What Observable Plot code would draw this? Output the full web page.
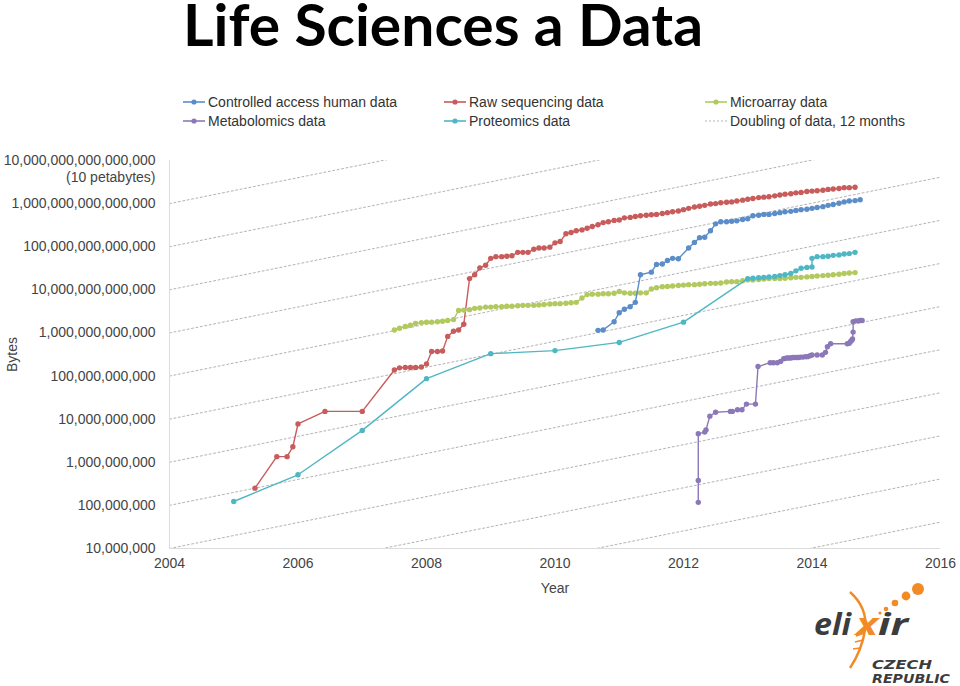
<!DOCTYPE html>
<html>
<head>
<meta charset="utf-8">
<script src="https://cdn.jsdelivr.net/npm/d3@7"></script>
<script src="https://cdn.jsdelivr.net/npm/@observablehq/plot@0.6"></script>
<style>
  html, body { margin: 0; padding: 0; background: #fff; }
  #page { position: relative; width: 960px; height: 686px; overflow: hidden; background: #fff; }
  .abs { position: absolute; }
  .leg { position: absolute; height: 18px; display: flex; align-items: center; font-family: "Liberation Sans", Arial, Helvetica, sans-serif; font-size: 14px; color: #333; white-space: nowrap; }
  .leg svg { margin-right: 2px; }
</style>
</head>
<body>
<div id="page">
  <svg class="abs" style="left:0;top:0" width="960" height="64">
    <text x="183" y="46" font-family="Lato, 'Open Sans', sans-serif" font-weight="700" font-size="57" textLength="520" lengthAdjust="spacingAndGlyphs" fill="#000">Life Sciences a Data</text>
  </svg>
  <div id="legend"></div>
  <div id="chart" class="abs" style="left:0;top:140px"></div>
  <svg class="abs" style="left:800px;top:570px" width="160" height="116">
    <path d="M50,22 Q68,38 65,60 Q62,80 50,98" fill="none" stroke="#f28a25" stroke-width="2.4"/>
    <path d="M56,66 L64,63 M55,72 L63,70 M53,79 L60,78" fill="none" stroke="#f28a25" stroke-width="1.6"/>
    <circle cx="80" cy="43" r="1.6" fill="#f28a25"/>
    <circle cx="86" cy="39" r="2.3" fill="#f28a25"/>
    <circle cx="95" cy="33" r="3.3" fill="#f28a25"/>
    <circle cx="106" cy="26" r="4.4" fill="#f28a25"/>
    <circle cx="118" cy="19" r="6" fill="#f28a25"/>
    <text x="14" y="65" font-family="'Open Sans', 'Liberation Sans', sans-serif" font-style="italic" font-weight="700" font-size="31" fill="#3c3c3c" textLength="37" lengthAdjust="spacingAndGlyphs">eli</text>
    <text x="56" y="65" font-family="'Open Sans', 'Liberation Sans', sans-serif" font-style="italic" font-weight="700" font-size="31" fill="#f28a25" textLength="22" lengthAdjust="spacingAndGlyphs">x</text>
    <text x="78" y="65" font-family="'Open Sans', 'Liberation Sans', sans-serif" font-style="italic" font-weight="700" font-size="31" fill="#3c3c3c" textLength="30" lengthAdjust="spacingAndGlyphs">ir</text>
    <text x="72" y="99" font-family="'DejaVu Sans', 'Liberation Sans', sans-serif" font-style="italic" font-weight="700" font-size="11.5" fill="#3c3c3c" textLength="60" lengthAdjust="spacingAndGlyphs">CZECH</text>
    <text x="72" y="113" font-family="'DejaVu Sans', 'Liberation Sans', sans-serif" font-style="italic" font-weight="700" font-size="11.5" fill="#3c3c3c" textLength="78" lengthAdjust="spacingAndGlyphs">REPUBLIC</text>
  </svg>
</div>
<script>
// ---------------- DATA ----------------
const seriesNames = [
  "Controlled access human data",
  "Raw sequencing data",
  "Microarray data",
  "Metabolomics data",
  "Proteomics data"
];
const doublingLabel = "Doubling of data, 12 months";

const xTicks = [2004, 2006, 2008, 2010, 2012, 2014, 2016];
const yTicks = [1e7, 1e8, 1e9, 1e10, 1e11, 1e12, 1e13, 1e14, 1e15, 1e16];
const topTickNote = ["(10 petabytes)"];

// monthly dates, Jul 2007 .. Sep 2014 (decimal years)
const monthsJul2007toSep2014 = [
  2007.50, 2007.58, 2007.67, 2007.75, 2007.83, 2007.92,
  2008.00, 2008.08, 2008.17, 2008.25, 2008.33, 2008.42, 2008.50, 2008.58, 2008.67, 2008.75, 2008.83, 2008.92,
  2009.00, 2009.08, 2009.17, 2009.25, 2009.33, 2009.42, 2009.50, 2009.58, 2009.67, 2009.75, 2009.83, 2009.92,
  2010.00, 2010.08, 2010.17, 2010.25, 2010.33, 2010.42, 2010.50, 2010.58, 2010.67, 2010.75, 2010.83, 2010.92,
  2011.00, 2011.08, 2011.17, 2011.25, 2011.33, 2011.42, 2011.50, 2011.58, 2011.67, 2011.75, 2011.83, 2011.92,
  2012.00, 2012.08, 2012.17, 2012.25, 2012.33, 2012.42, 2012.50, 2012.58, 2012.67, 2012.75, 2012.83, 2012.92,
  2013.00, 2013.08, 2013.17, 2013.25, 2013.33, 2013.42, 2013.50, 2013.58, 2013.67, 2013.75, 2013.83, 2013.92,
  2014.00, 2014.08, 2014.17, 2014.25, 2014.33, 2014.42, 2014.50, 2014.58, 2014.67
];

// Raw sequencing data (log10 bytes)
const rawEarlyYears = [2005.33, 2005.67, 2005.83, 2005.92, 2006.00, 2006.42, 2007.00];
const rawEarlyLog10 = [8.40, 9.13, 9.13, 9.36, 9.89, 10.18, 10.18];
const rawMonthlyLog10 = [
  11.14, 11.19, 11.20, 11.20, 11.20, 11.21, 11.28, 11.57, 11.57, 11.58,
  11.92, 12.04, 12.07, 12.20, 13.26, 13.35, 13.51, 13.57, 13.73, 13.77,
  13.77, 13.78, 13.79, 13.87, 13.87, 13.87, 13.94, 13.97, 13.97, 13.99,
  14.09, 14.12, 14.30, 14.33, 14.37, 14.39, 14.43, 14.47, 14.51, 14.56,
  14.58, 14.61, 14.62, 14.67, 14.68, 14.70, 14.72, 14.73, 14.74, 14.75,
  14.77, 14.79, 14.81, 14.83, 14.86, 14.89, 14.92, 14.94, 14.96, 14.99,
  15.00, 15.02, 15.03, 15.04, 15.06, 15.08, 15.10, 15.12, 15.14, 15.15,
  15.16, 15.18, 15.20, 15.22, 15.23, 15.25, 15.26, 15.28, 15.29, 15.30,
  15.31, 15.33, 15.34, 15.35, 15.37, 15.37, 15.38
];

// Microarray data (log10 bytes), monthly Jul 2007 .. Sep 2014
const microarrayLog10 = [
  12.07, 12.11, 12.15, 12.18, 12.22, 12.24, 12.25, 12.25, 12.26, 12.27,
  12.29, 12.31, 12.52, 12.53, 12.54, 12.57, 12.58, 12.60, 12.60, 12.61,
  12.61, 12.62, 12.62, 12.63, 12.64, 12.64, 12.64, 12.65, 12.66, 12.67,
  12.68, 12.68, 12.69, 12.70, 12.71, 12.81, 12.89, 12.90, 12.90, 12.91,
  12.91, 12.92, 12.96, 12.93, 12.92, 12.92, 12.93, 12.93, 13.02, 13.05,
  13.07, 13.08, 13.09, 13.10, 13.11, 13.12, 13.12, 13.13, 13.14, 13.15,
  13.15, 13.16, 13.18, 13.19, 13.19, 13.21, 13.23, 13.23, 13.24, 13.25,
  13.26, 13.26, 13.26, 13.27, 13.28, 13.29, 13.29, 13.30, 13.31, 13.32,
  13.33, 13.34, 13.35, 13.36, 13.38, 13.39, 13.40
];

// Controlled access human data
const controlledYears = [
  2010.67, 2010.75, 2010.92,
  2011.00, 2011.08, 2011.17, 2011.25, 2011.33, 2011.50, 2011.58, 2011.67, 2011.75, 2011.83, 2011.92,
  2012.08, 2012.17, 2012.25, 2012.33, 2012.42, 2012.50, 2012.58, 2012.67, 2012.75, 2012.83, 2012.92,
  2013.00, 2013.08, 2013.17, 2013.25, 2013.33, 2013.42, 2013.50, 2013.58, 2013.67, 2013.75, 2013.83, 2013.92,
  2014.00, 2014.08, 2014.17, 2014.25, 2014.33, 2014.42, 2014.50, 2014.58, 2014.67, 2014.75
];
const controlledLog10 = [
  12.06, 12.07, 12.26, 12.47, 12.55, 12.61, 12.71, 13.35, 13.41, 13.59,
  13.60, 13.68, 13.73, 13.72, 13.97, 14.10, 14.21, 14.22, 14.37, 14.53,
  14.58, 14.58, 14.59, 14.60, 14.63, 14.65, 14.72, 14.73, 14.75, 14.75,
  14.77, 14.79, 14.81, 14.82, 14.84, 14.86, 14.87, 14.89, 14.91, 14.93,
  14.96, 14.98, 15.01, 15.04, 15.06, 15.07, 15.09
];

// Proteomics data
const proteomicsYears = [
  2005.00, 2006.00, 2007.00, 2008.00, 2009.00, 2010.00, 2011.00, 2012.00,
  2013.00, 2013.08, 2013.17, 2013.25, 2013.33, 2013.42, 2013.50, 2013.58, 2013.67, 2013.75, 2013.83, 2013.92,
  2014.00, 2014.00, 2014.08, 2014.17, 2014.25, 2014.33, 2014.42, 2014.50, 2014.58, 2014.67
];
const proteomicsLog10 = [
  8.09, 8.71, 9.74, 10.94, 11.52, 11.59, 11.78, 12.25,
  13.26, 13.27, 13.28, 13.29, 13.30, 13.31, 13.33, 13.35, 13.38, 13.44, 13.50, 13.52,
  13.53, 13.73, 13.77, 13.77, 13.78, 13.80, 13.81, 13.83, 13.84, 13.87
];

// Metabolomics data
const metabolomicsYears = [
  2012.23, 2012.23, 2012.23, 2012.33, 2012.35, 2012.41, 2012.50,
  2012.73, 2012.76, 2012.84, 2012.91, 2012.98, 2013.12, 2013.16,
  2013.35, 2013.40, 2013.46, 2013.51, 2013.56, 2013.58, 2013.61, 2013.64, 2013.67, 2013.70,
  2013.73, 2013.76, 2013.79, 2013.82, 2013.86, 2013.90, 2013.93, 2013.97,
  2014.00, 2014.08, 2014.16, 2014.21, 2014.24, 2014.29,
  2014.55, 2014.58, 2014.60, 2014.62, 2014.63, 2014.64, 2014.64,
  2014.68, 2014.72, 2014.75, 2014.78
];
const metabolomicsLog10 = [
  8.07, 8.58, 9.66, 9.70, 9.75, 10.07, 10.16,
  10.18, 10.18, 10.22, 10.22, 10.35, 10.35, 11.22,
  11.31, 11.31, 11.31, 11.34, 11.40, 11.41, 11.42, 11.42, 11.42, 11.43,
  11.43, 11.43, 11.43, 11.44, 11.44, 11.45, 11.45, 11.47,
  11.49, 11.49, 11.49, 11.55, 11.68, 11.75,
  11.75, 11.76, 11.80, 11.83, 11.86, 12.02, 12.26,
  12.28, 12.28, 12.29, 12.29
];

// Reference lines: data doubling every 12 months, starting at each power of ten in 2004
const doublingStartLog10 = [4, 5, 6, 7, 8, 9, 10, 11, 12, 13, 14, 15];
const doublingPeriodYears = 1;

// ---------------- STYLE ----------------
const seriesColors = ["#5b8dc8", "#c85b5b", "#b1c95f", "#8c78b8", "#4fb6c4"];
const doublingColor = "#b3b3b3";

// ---------------- BUILD TABLES ----------------
function build(name, years, logs) {
  return years.map((year, i) => ({series: name, year, bytes: Math.pow(10, logs[i])}));
}
const seriesData = [
  build(seriesNames[1], rawEarlyYears.concat(monthsJul2007toSep2014), rawEarlyLog10.concat(rawMonthlyLog10)),
  build(seriesNames[2], monthsJul2007toSep2014, microarrayLog10),
  build(seriesNames[0], controlledYears, controlledLog10),
  build(seriesNames[4], proteomicsYears, proteomicsLog10),
  build(seriesNames[3], metabolomicsYears, metabolomicsLog10)
];
const xDomain = [xTicks[0], xTicks[xTicks.length - 1]];
const doublingData = doublingStartLog10.flatMap(k =>
  xDomain.map(year => ({k, year, bytes: Math.pow(10, k) * Math.pow(2, (year - xDomain[0]) / doublingPeriodYears)}))
);

// ---------------- CHART ----------------
const lineMarks = seriesData.flatMap(data => [
  Plot.line(data, {x: "year", y: "bytes", stroke: "series", strokeWidth: 1.4}),
  Plot.dot(data, {x: "year", y: "bytes", fill: "series", r: 2.7, stroke: "none"})
]);
const bytesFormat = d => Math.round(d).toLocaleString("en-US");

const chart = Plot.plot({
  width: 960,
  height: 460,
  marginLeft: 169,
  marginRight: 20,
  marginTop: 20,
  marginBottom: 52,
  style: {fontFamily: "'Liberation Sans', Arial, Helvetica, sans-serif", fontSize: "14px", color: "#444", background: "transparent"},
  x: {domain: xDomain},
  y: {type: "log", domain: [yTicks[0], yTicks[yTicks.length - 1]]},
  color: {domain: seriesNames, range: seriesColors},
  marks: [
    Plot.line(doublingData, {x: "year", y: "bytes", z: "k", stroke: doublingColor, strokeWidth: 1, strokeDasharray: "2,2.5", clip: true}),
    Plot.ruleX([xDomain[0]], {stroke: "#dcdcdc", strokeWidth: 1}),
    Plot.ruleY([yTicks[0]], {stroke: "#dcdcdc", strokeWidth: 1}),
    ...lineMarks,
    Plot.axisY({ticks: yTicks, tickFormat: bytesFormat, tickSize: 0, tickPadding: 14, label: "Bytes", labelAnchor: "center", labelOffset: 162, labelArrow: "none", fill: "#444"}),
    Plot.axisX({ticks: xTicks, tickFormat: d => String(d), tickSize: 0, tickPadding: 10, label: "Year", labelAnchor: "center", labelOffset: 44, labelArrow: "none", fill: "#444"}),
    Plot.text(topTickNote, {x: xDomain[0], y: yTicks[yTicks.length - 1], dx: -14, dy: 17, textAnchor: "end", fill: "#444", fontSize: 14})
  ]
});
document.getElementById("chart").appendChild(chart);

// ---------------- LEGEND ----------------
const legendItems = [
  {name: seriesNames[0], color: seriesColors[0]},
  {name: seriesNames[1], color: seriesColors[1]},
  {name: seriesNames[2], color: seriesColors[2]},
  {name: seriesNames[3], color: seriesColors[3]},
  {name: seriesNames[4], color: seriesColors[4]},
  {name: doublingLabel, color: doublingColor, dotted: true}
];
const legendCols = [182, 443, 704];
const legendRows = [93, 112];
const legendEl = document.getElementById("legend");
legendItems.forEach((item, i) => {
  const div = document.createElement("div");
  div.className = "leg";
  div.style.left = legendCols[i % 3] + "px";
  div.style.top = legendRows[Math.floor(i / 3)] + "px";
  const sw = item.dotted
    ? `<svg width="24" height="18"><line x1="1" y1="9" x2="23" y2="9" stroke="${item.color}" stroke-width="1" stroke-dasharray="2,2"/></svg>`
    : `<svg width="24" height="18"><line x1="1" y1="9" x2="23" y2="9" stroke="${item.color}" stroke-width="1.6"/><circle cx="12" cy="9" r="2.6" fill="${item.color}"/></svg>`;
  div.innerHTML = sw + `<span>${item.name}</span>`;
  legendEl.appendChild(div);
});
</script>
</body>
</html>
